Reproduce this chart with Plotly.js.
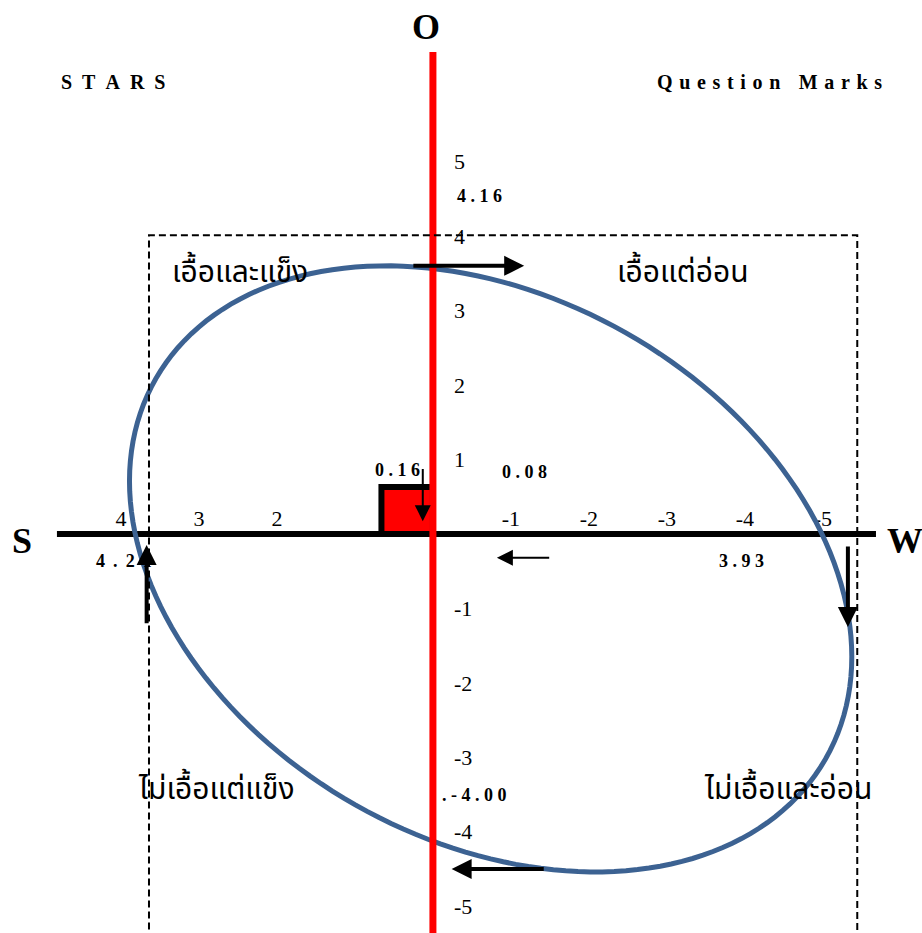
<!DOCTYPE html>
<html>
<head>
<meta charset="utf-8">
<script src="https://cdn.plot.ly/plotly-3.0.1.min.js"></script>
<style>
html, body { margin: 0; padding: 0; background: #ffffff; }
#chart { width: 922px; height: 933px; }
</style>
</head>
<body>
<div id="chart"></div>
<script>
// ---------------- data ----------------
const axisLetters = ['O', 'S', 'W'];                 // top, left, right ends of the axes
const cornerTitles = ['STARS', 'Question Marks'];     // top-left, top-right corner titles
const quadrantNames = ['เอื้อและแข็ง', 'เอื้อแต่อ่อน', 'ไม่เอื้อแต่แข็ง', 'ไม่เอื้อและอ่อน'];
const xTickVals = [4, 3, 2, -1, -2, -3, -4, -5];
const xTickText = ['4', '3', '2', '-1', '-2', '-3', '-4', '-5'];
const yTickVals = [5, 4, 3, 2, 1, -1, -2, -3, -4, -5];
const yTickText = ['5', '4', '3', '2', '1', '-1', '-2', '-3', '-4', '-5'];
const scoreLabels = ['4.16', '4.21', '3.93', '.-4.00'];   // O, S, W, T totals
const centerLabels = ['0.16', '0.08'];                      // position of the strategic point

// ---------------- layout constants ----------------
const xRange = [5.55, -6.27];   // S (positive) to the left, W (negative) to the right
const yRange = [-5.36, 7.17];
const SERIF = 'Liberation Serif, Times New Roman, serif';
const THAI = 'Noto Sans Thai, Loma, Garuda, Norasi, Tahoma, DejaVu Sans, sans-serif';
const BLUE = '#3c6292';

function spaced(str, sep) { return str.split('').join(sep); }

// ellipse (strategy envelope) built as a path in data units
const ell = { cx: -0.74, cy: -0.47, wx: 4.63, wy: 4.07, phase: Math.acos(0.29) };
const ellPts = [];
for (let i = 0; i <= 180; i++) {
  const t = 2 * Math.PI * i / 180;
  const x = ell.cx + ell.wx * Math.cos(t);
  const y = ell.cy + ell.wy * Math.cos(t - ell.phase);
  ellPts.push((i === 0 ? 'M' : 'L') + x.toFixed(4) + ',' + y.toFixed(4));
}
const ellPath = ellPts.join(' ') + ' Z';

const shapes = [
  // red point box
  { type: 'rect', xref: 'x', yref: 'y', x0: 0.66, x1: 0, y0: 0, y1: 0.63,
    fillcolor: '#ff0000', line: { color: '#000000', width: 6 } },
  // horizontal S-W axis
  { type: 'line', xref: 'x', yref: 'y', x0: 4.82, x1: -5.68, y0: 0, y1: 0,
    line: { color: '#000000', width: 6 } },
  // ellipse
  { type: 'path', xref: 'x', yref: 'y', path: ellPath,
    line: { color: BLUE, width: 5 }, fillcolor: 'rgba(0,0,0,0)' },
  // vertical O-T axis
  { type: 'line', xref: 'x', yref: 'y', x0: 0, x1: 0, y0: 6.47, y1: -6,
    line: { color: '#ff0000', width: 7 } },
  // dashed quadrant frame
  { type: 'rect', xref: 'x', yref: 'y', x0: 3.64, x1: -5.44, y0: -6, y1: 4.01,
    line: { color: '#000000', width: 2, dash: '7px,4px' }, fillcolor: 'rgba(0,0,0,0)' }
];

function label(text, x, y, size, opts) {
  return Object.assign({ xref: 'x', yref: 'y', x: x, y: y, text: text, showarrow: false,
    font: { family: SERIF, size: size, color: '#000000' }, xanchor: 'center', yanchor: 'middle' }, opts || {});
}
function thai(text, x, y) {
  return label(text, x, y, 30, { font: { family: THAI, size: 30, color: '#000000' } });
}
function arrow(x, y, ax, ay, w, size) {
  return { xref: 'x', yref: 'y', axref: 'x', ayref: 'y', x: x, y: y, ax: ax, ay: ay, text: '',
    showarrow: true, arrowhead: 2, arrowsize: size, arrowwidth: w, arrowcolor: '#000000', standoff: 0 };
}

const annotations = [
  label('<b>' + axisLetters[0] + '</b>', 0.09, 6.81, 36),
  label('<b>' + axisLetters[1] + '</b>', 5.27, -0.09, 36),
  label('<b>' + axisLetters[2] + '</b>', -6.05, -0.09, 36),
  label('<b>' + spaced(cornerTitles[0], '\u00A0\u00A0') + '</b>', 4.10, 6.07, 20),
  label('<b>' + spaced(cornerTitles[1], '\u00A0\u200A') + '</b>', -4.32, 6.07, 20),
  thai(quadrantNames[0], 2.47, 3.50),
  thai(quadrantNames[1], -3.21, 3.50),
  thai(quadrantNames[2], 2.78, -3.44),
  thai(quadrantNames[3], -4.55, -3.44),
  label('<b>' + spaced(scoreLabels[0], '\u00A0') + '</b>', -0.60, 4.54, 18),
  label('<b>' + spaced(scoreLabels[1], '\u00A0\u2009') + '</b>', 4.35, -0.36, 18, { xanchor: 'left' }),
  label('<b>' + spaced(scoreLabels[2], '\u00A0') + '</b>', -3.95, -0.36, 18),
  label('<b>' + spaced(scoreLabels[3], '\u00A0') + '</b>', -0.09, -3.50, 18, { xanchor: 'left' }),
  label('<b>' + spaced(centerLabels[0], '\u00A0') + '</b>', 0.45, 0.86, 18),
  label('<b>' + spaced(centerLabels[1], '\u00A0') + '</b>', -1.17, 0.83, 18),
  // arrows
  arrow(-1.17, 3.60, 0.27, 3.60, 4, 1),
  arrow(-0.24, -4.50, -1.44, -4.50, 4, 1),
  arrow(3.67, -0.15, 3.67, -1.22, 4, 1),
  arrow(-5.32, -1.25, -5.32, -0.15, 4, 1),
  arrow(0.13, 0.17, 0.13, 0.89, 2, 1.6),
  arrow(-0.82, -0.32, -1.51, -0.32, 2, 1.6)
];

const xZero = (0 - yRange[0]) / (yRange[1] - yRange[0]);
const yZero = (0 - xRange[0]) / (xRange[1] - xRange[0]);

const layout = {
  width: 922, height: 933,
  margin: { l: 0, r: 0, t: 0, b: 0, pad: 0 },
  paper_bgcolor: '#ffffff', plot_bgcolor: '#ffffff',
  showlegend: false,
  xaxis: {
    range: xRange, anchor: 'free', position: xZero, side: 'top',
    tickmode: 'array', tickvals: xTickVals, ticktext: xTickText,
    ticks: '', showgrid: false, zeroline: false, showline: false, automargin: false,
    tickfont: { family: SERIF, size: 22, color: '#000000' }, ticklabelstandoff: 3, fixedrange: true
  },
  yaxis: {
    range: yRange, anchor: 'free', position: yZero, side: 'right',
    tickmode: 'array', tickvals: yTickVals, ticktext: yTickText,
    ticks: '', showgrid: false, zeroline: false, showline: false, automargin: false,
    tickfont: { family: SERIF, size: 22, color: '#000000' }, ticklabelstandoff: 20, fixedrange: true
  },
  shapes: shapes,
  annotations: annotations
};

Plotly.newPlot('chart', [{ x: [], y: [], type: 'scatter', mode: 'markers', hoverinfo: 'skip' }], layout,
  { displayModeBar: false, staticPlot: true });
</script>
</body>
</html>
